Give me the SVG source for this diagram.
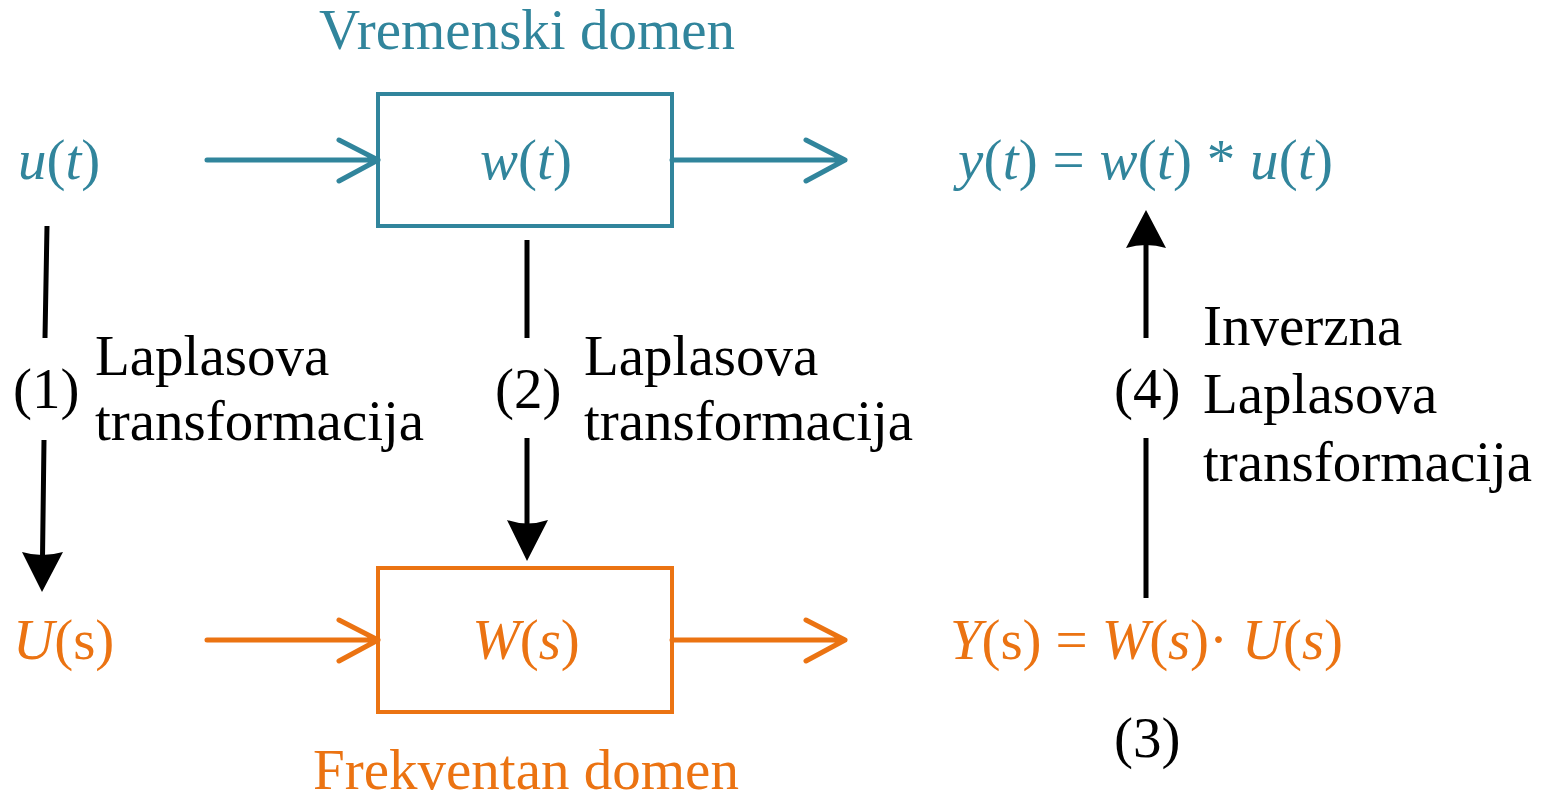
<svg xmlns="http://www.w3.org/2000/svg" width="1545" height="800" viewBox="0 0 1545 800">
  <style>
    text { font-family: "Liberation Serif", "Times New Roman", serif; font-size: 57px; }
    .teal { fill: #31859C; }
    .orange { fill: #EB7312; }
    .black { fill: #000; }
    .i { font-style: italic; }
    .box-t { fill: #fff; stroke: #31859C; stroke-width: 4; }
    .box-o { fill: #fff; stroke: #EB7312; stroke-width: 4; }
    .ln-t { fill: none; stroke: #31859C; stroke-width: 5; stroke-linecap: round; stroke-linejoin: round; }
    .ln-o { fill: none; stroke: #EB7312; stroke-width: 5; stroke-linecap: round; stroke-linejoin: round; }
    .ln-k { fill: none; stroke: #000; stroke-width: 5; }
    .head-k { fill: #000; }
  </style>

  <!-- domain titles -->
  <text id="title-time" class="teal" x="527" y="49" text-anchor="middle">Vremenski domen</text>
  <text id="title-freq" class="orange" x="526" y="789" text-anchor="middle">Frekventan domen</text>

  <!-- time-domain nodes -->
  <g id="node-ut">
    <text class="teal" x="18" y="179"><tspan class="i">u</tspan>(<tspan class="i">t</tspan>)</text>
  </g>
  <g id="node-wt">
    <rect class="box-t" x="378" y="94" width="294" height="132"/>
    <text class="teal" x="526" y="179" text-anchor="middle"><tspan class="i">w</tspan>(<tspan class="i">t</tspan>)</text>
  </g>
  <g id="node-yt">
    <text class="teal" x="958" y="179" textLength="375" lengthAdjust="spacing"><tspan class="i">y</tspan>(<tspan class="i">t</tspan>) = <tspan class="i">w</tspan>(<tspan class="i">t</tspan>) * <tspan class="i">u</tspan>(<tspan class="i">t</tspan>)</text>
  </g>

  <!-- frequency-domain nodes -->
  <g id="node-Us">
    <text class="orange" x="13" y="659"><tspan class="i">U</tspan>(s)</text>
  </g>
  <g id="node-Ws">
    <rect class="box-o" x="378" y="568" width="294" height="144"/>
    <text class="orange" x="526" y="659" text-anchor="middle"><tspan class="i">W</tspan>(<tspan class="i">s</tspan>)</text>
  </g>
  <g id="node-Ys">
    <text class="orange" x="950" y="659" textLength="393" lengthAdjust="spacing"><tspan class="i">Y</tspan>(s) = <tspan class="i">W</tspan>(<tspan class="i">s</tspan>)· <tspan class="i">U</tspan>(<tspan class="i">s</tspan>)</text>
  </g>

  <!-- step labels -->
  <g id="label-1">
    <text class="black" x="13" y="408">(1)</text>
    <text class="black" x="95" y="375">Laplasova</text>
    <text class="black" x="95" y="440">transformacija</text>
  </g>
  <g id="label-2">
    <text class="black" x="495" y="408">(2)</text>
    <text class="black" x="584" y="375">Laplasova</text>
    <text class="black" x="584" y="440">transformacija</text>
  </g>
  <g id="label-3">
    <text class="black" x="1114" y="757">(3)</text>
  </g>
  <g id="label-4">
    <text class="black" x="1114" y="408">(4)</text>
    <text class="black" x="1203" y="345">Inverzna</text>
    <text class="black" x="1203" y="413">Laplasova</text>
    <text class="black" x="1203" y="481">transformacija</text>
  </g>

  <!-- connectors -->
  <g id="connectors">
    <!-- time domain flow -->
    <path class="ln-t" d="M207,160 H378 M339,140 L378,160 L339,181"/>
    <path class="ln-t" d="M672,160 H845 M806,140 L845,160 L806,181"/>
    <!-- frequency domain flow -->
    <path class="ln-o" d="M207,640 H378 M339,620 L378,640 L339,661"/>
    <path class="ln-o" d="M672,640 H845 M806,620 L845,640 L806,661"/>
    <!-- (1) u(t) -> U(s) -->
    <path class="ln-k" d="M47,226 L45,338 M44,440 L42.5,558"/>
    <path class="head-k" d="M22,552 L42,592 L63,552 Q42,558 22,552 Z"/>
    <!-- (2) w(t) -> W(s) -->
    <path class="ln-k" d="M527,240 V338 M527,438 V525"/>
    <path class="head-k" d="M507,520 L527,561 L548,520 Q527,527 507,520 Z"/>
    <!-- (4) Y(s) -> y(t) -->
    <path class="ln-k" d="M1146,598 V438 M1146,338 V243"/>
    <path class="head-k" d="M1126,248 L1146,210 L1166,248 Q1146,242 1126,248 Z"/>
  </g>
</svg>
